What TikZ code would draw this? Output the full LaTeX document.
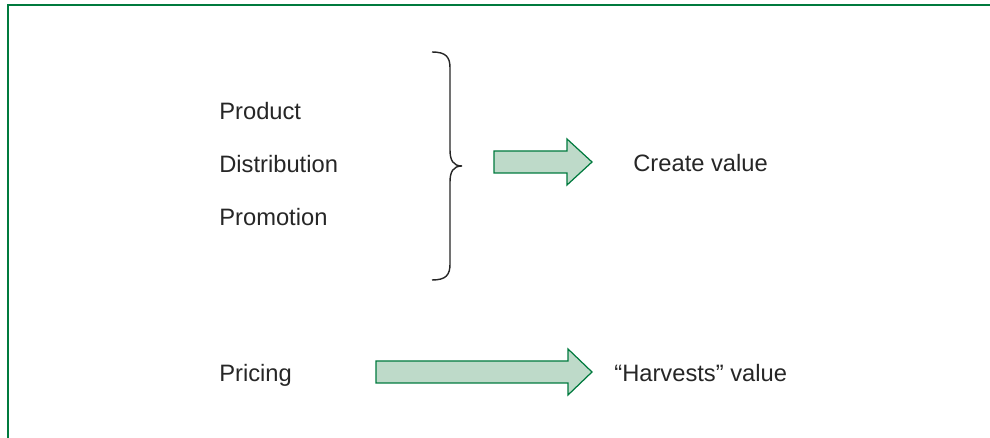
\documentclass[tikz,border=0pt]{standalone}
\usepackage{fontspec}
\setmainfont{Liberation Sans}
\usepackage{xcolor}
\definecolor{FrameGreen}{RGB}{0,122,62}
\definecolor{ArrowFill}{RGB}{190,218,201}

\begin{document}
\begin{tikzpicture}[x=0.02cm, y=-0.02cm, font=\fontsize{13.5}{16}\selectfont,
	label/.style={anchor=base west, inner sep=0pt, text=black!85},
	blockarrow/.style={draw=FrameGreen, fill=ArrowFill, line width=0.7pt, line join=miter}]
	\useasboundingbox (0,0) rectangle (990,438);
	\draw[color=FrameGreen, line width=0.9pt] (8,438) -- (8,5) -- (990,5);
	\node[label] (product) at (219,120) {Product};
	\node[label] (distribution) at (219,173) {Distribution};
	\node[label] (promotion) at (219,226) {Promotion};
	\node[label] (pricing) at (219,382) {Pricing};
	\node[label] (create) at (633,172) {Create value};
	\node[label] (harvest) at (614,382) {``Harvests'' value};
	\draw[line width=0.8pt, color=black!85] (432,52) .. controls (446,52) and (450,57) .. (450,68) -- (450,150)
	  .. controls (450,160) and (453,166) .. (462,166) .. controls (453,166) and (450,172) .. (450,182)
	  -- (450,264) .. controls (450,275) and (446,280) .. (432,280);
	\draw[blockarrow] (494,151) -- (567,151) -- (567,139) -- (592,162) -- (567,185) -- (567,173) -- (494,173) -- cycle;
	\draw[blockarrow] (376,361) -- (568,361) -- (568,349) -- (592,372) -- (568,395) -- (568,383) -- (376,383) -- cycle;
\end{tikzpicture}
\end{document}
